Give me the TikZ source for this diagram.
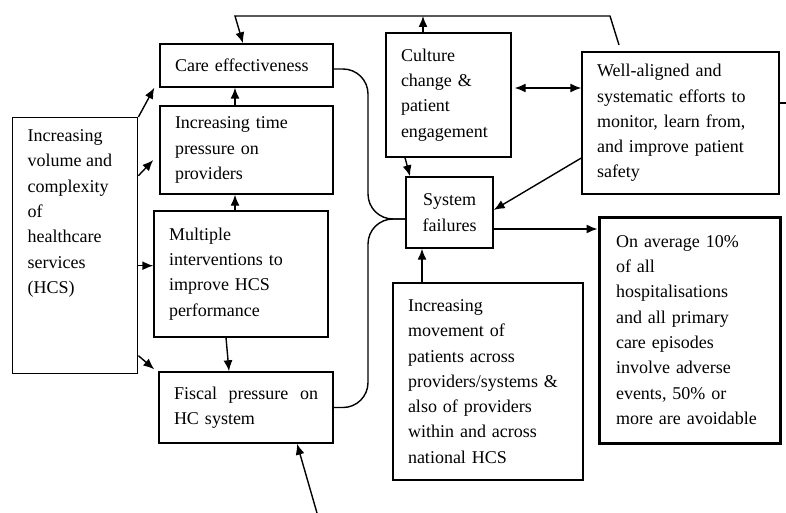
\documentclass[tikz,border=0pt]{standalone}
\usepackage{fontspec}
\setmainfont{Liberation Serif}
\usetikzlibrary{arrows.meta}
\tikzset{
    blockbox/.style={draw,line width=1.4pt,align=left,inner xsep=15pt,inner ysep=0pt,font=\fontsize{18}{25.3}\selectfont},
    link/.style={line width=1.4pt},
    flow/.style={link,-{Latex[length=11pt,width=9pt]}},
    twoway/.style={link,{Latex[length=11pt,width=9pt]}-{Latex[length=11pt,width=9pt]}},
}
\begin{document}
\begin{tikzpicture}[x=1pt,y=-1pt]
    \useasboundingbox (0,0) rectangle (786,513);
    % boxes
    \node[draw,line width=1.4pt,inner xsep=15pt,inner ysep=12pt,anchor=north west,font=\fontsize{18}{25.3}\selectfont] (incr) at (12,117)
        {\begin{minipage}[t][232pt][t]{95pt}Increasing\\volume and\\complexity\\of\\healthcare\\services\\(HCS)\end{minipage}};
    \node[blockbox,text width=143pt,minimum height=43pt] (care) at (246.5,65.5) {Care effectiveness};
    \node[blockbox,text width=143pt,minimum height=88pt] (timep) at (246.5,150) {Increasing time\\pressure on\\providers};
    \node[blockbox,text width=144pt,minimum height=126pt] (multi) at (241,274) {Multiple\\interventions to\\improve HCS\\performance};
    \node[blockbox,text width=144pt,minimum height=71pt] (fiscal) at (246,407.5) {Fiscal\hfill pressure\hfill on\\HC system};
    \node[blockbox,text width=95pt,minimum height=124pt] (culture) at (448.5,95) {Culture\\change \&\\patient\\engagement};
    \node[blockbox,text width=167pt,minimum height=142pt] (well) at (680.5,123) {Well-aligned and\\systematic efforts to\\monitor, learn from,\\and improve patient\\safety};
    \node[blockbox,align=center,text width=57pt,minimum height=71pt] (sys) at (449.5,212.5) {System\\failures};
    \node[blockbox,line width=3pt,inner xsep=17pt,text width=147pt,minimum height=226pt] (avg) at (689.5,330) {On average 10\%\\of all\\hospitalisations\\and all primary\\care episodes\\involve adverse\\events, 50\% or\\more are avoidable};
    \node[blockbox,text width=160pt,minimum height=197pt] (move) at (488,381.5) {Increasing\\movement of\\patients across\\providers/systems \&\\also of providers\\within and across\\national HCS};
    % free ends and bends
    \coordinate (fbstart) at (619,45);
    \coordinate (fbbend) at (610,16);
    \coordinate (fbleft) at (235,16);
    \coordinate (fisin) at (317,513);
    \coordinate (stub) at (786,103);
    \coordinate (join) at (368,219);
    \coordinate (cup) at ([xshift=-25.5pt]culture.north);
    \coordinate (cwl) at ([yshift=7pt]culture.east);
    \coordinate (sout) at ([yshift=-16.5pt]sys.east);
    \coordinate (mup) at ([xshift=-66pt]move.north);
    \coordinate (imid) at ([yshift=-20pt]incr.east);
    \coordinate (tup) at ([xshift=-11.5pt]timep.north);
    \coordinate (mlup) at ([xshift=-6pt]multi.north);
    % connectors
    \draw[flow] (fbstart) -- (fbbend) -- (fbleft) -- ([xshift=-3.5pt]care.north);
    \draw[flow] (cup) -- (cup |- fbleft);
    \draw[twoway,shorten <=3pt] (cwl) -- (cwl -| well.west);
    \draw[flow] ([xshift=-43.5pt]culture.south) -- ([xshift=-39.5pt]sys.north);
    \draw[flow] ([yshift=-35pt]well.west) -- ([yshift=2.5pt]sys.east);
    \draw[flow] (sout) -- (sout -| avg.west);
    \draw[flow] (mup) -- (mup |- sys.south);
    \draw[flow] (incr.north east) -- ([xshift=-5pt]care.south west);
    \draw[flow] ([yshift=70pt]incr.east) -- ([xshift=-6pt,yshift=-10pt]timep.west);
    \draw[flow] (imid) -- (imid -| multi.west);
    \draw[flow] ([yshift=-110pt]incr.east) -- ([xshift=-4pt,yshift=2pt]fiscal.north west);
    \draw[flow] (tup) -- (tup |- care.south);
    \draw[flow] (mlup) -- (mlup |- timep.south);
    \draw[flow] ([xshift=-15pt]multi.south) -- ([xshift=-17pt]fiscal.north);
    \draw[flow] (fisin) -- ([xshift=51pt]fiscal.south);
    \draw[link,rounded corners=25pt] ([yshift=-3.5pt]care.east) -| (join) -- (join -| sys.west);
    \draw[link,rounded corners=25pt] (fiscal.east) -| (join) -- (join -| sys.west);
    \draw[link] ([yshift=20pt]well.east) -- (stub);
\end{tikzpicture}
\end{document}
